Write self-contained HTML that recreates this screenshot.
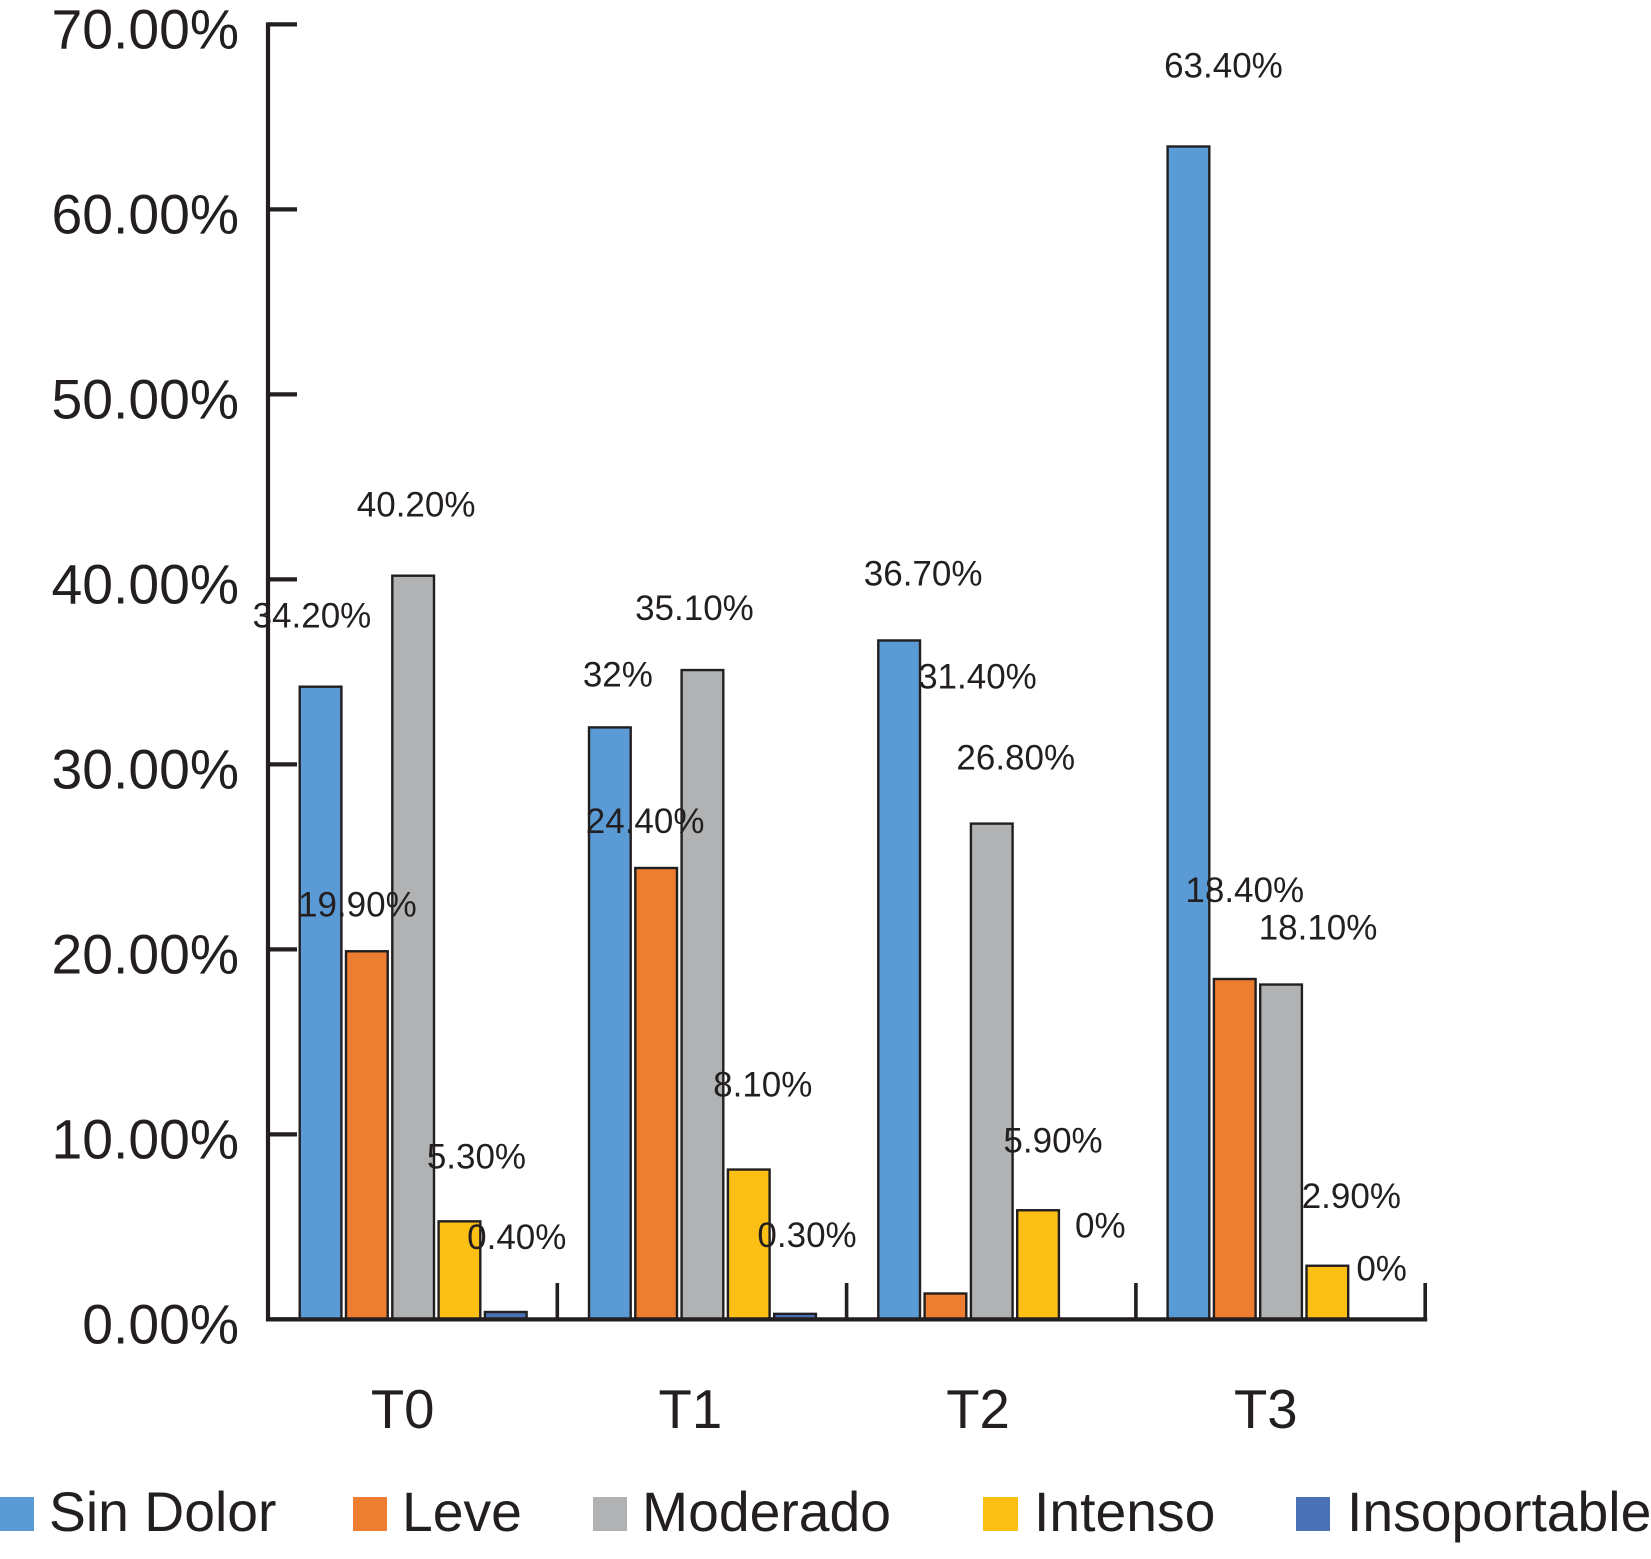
<!DOCTYPE html>
<html lang="es">
<head>
<meta charset="utf-8">
<title>Dolor por tiempo</title>
<style>
html,body{margin:0;padding:0;background:#fff;}
svg{display:block;}
text{font-family:"Liberation Sans",Arial,sans-serif;fill:#231f20;}
.big{font-size:55.3px;}
.cat{font-size:54.5px;}
.lab{font-size:35px;}
</style>
</head>
<body>
<svg id="chart" xmlns="http://www.w3.org/2000/svg" width="1651" height="1559" viewBox="0 0 1651 1559">
  <rect x="0" y="0" width="1651" height="1559" fill="#fff"/>
  <g id="bars"></g>
  <g id="axes"></g>
  <g id="labels"></g>
  <g id="legend">
    <g>
      <rect x="0" y="1497" width="34" height="34" fill="#5b9bd5"/>
      <text class="big" x="49" y="1531">Sin Dolor</text>
    </g>
    <g>
      <rect x="353" y="1497" width="34" height="34" fill="#ed7d31"/>
      <text class="big" x="402" y="1531">Leve</text>
    </g>
    <g>
      <rect x="593" y="1497" width="34" height="34" fill="#b0b2b3"/>
      <text class="big" x="642" y="1531">Moderado</text>
    </g>
    <g>
      <rect x="983" y="1497" width="35" height="34" fill="#fcc014"/>
      <text class="big" x="1034" y="1531">Intenso</text>
    </g>
    <g>
      <rect x="1296" y="1497" width="34" height="34" fill="#4a70b5"/>
      <text class="big" x="1347" y="1531">Insoportable</text>
    </g>
  </g>
</svg>
<script>
// ---- data ----
const categories = ['T0', 'T1', 'T2', 'T3'];
const seriesNames = ['sin-dolor', 'leve', 'moderado', 'intenso', 'insoportable'];
const sinDolor = [34.2, 32, 36.7, 63.4];
const leve = [19.9, 24.4, 1.4, 18.4];
const moderado = [40.2, 35.1, 26.8, 18.1];
const intenso = [5.3, 8.1, 5.9, 2.9];
const insoportable = [0.4, 0.3, 0, 0];
const yTicks = [0, 10, 20, 30, 40, 50, 60, 70];
const yTickLabels = ['0.00%', '10.00%', '20.00%', '30.00%', '40.00%', '50.00%', '60.00%', '70.00%'];
// Printed labels as they appear in the figure (T2 "Leve" is printed 31.40%)
const sinDolorLabels = ['34.20%', '32%', '36.70%', '63.40%'];
const leveLabels = ['19.90%', '24.40%', '31.40%', '18.40%'];
const moderadoLabels = ['40.20%', '35.10%', '26.80%', '18.10%'];
const intensoLabels = ['5.30%', '8.10%', '5.90%', '2.90%'];
const insoportableLabels = ['0.40%', '0.30%', '0%', '0%'];

// ---- layout ----
const seriesValues = [sinDolor, leve, moderado, intenso, insoportable];
const seriesLabels = [sinDolorLabels, leveLabels, moderadoLabels, intensoLabels, insoportableLabels];
const seriesColors = ['#5b9bd5', '#ed7d31', '#b0b2b3', '#fcc014', '#4a70b5'];
const INK = '#231f20';
const X0 = 268, BAND = 289.3, Y0 = 1319.4, PER_UNIT = 18.5;
const BAR_W = 41.7, BAR_PITCH = 46.3, BAR_START = 31.7;
// hand-placed annotation nudges (px, relative to bar centre / printed value height), by series then category
const nudgeX = [[-8.6, 8, 24, 35], [-9.5, -11, 32, 10], [3, -8, 24, 37], [17, 14, 15, 24], [11, 12, 16, 8]];
const nudgeY = [[-71, -53, -67, -81], [-47, -47, -62, -89], [-71, -62, -66, -57], [-65, -85, -70, -70], [-75, -79, -94, -51]];

function yScale(v) { return Y0 - v * PER_UNIT; }
function xBand(c) { return X0 + c * BAND; }
function xBar(c, s) { return xBand(c) + BAR_START + s * BAR_PITCH; }

const NS = 'http://www.w3.org/2000/svg';
function make(tag, attrs, parent) {
  const el = document.createElementNS(NS, tag);
  for (const k in attrs) el.setAttribute(k, attrs[k]);
  parent.appendChild(el);
  return el;
}
const barsG = document.getElementById('bars');
const axesG = document.getElementById('axes');
const labelsG = document.getElementById('labels');

// bars
seriesValues.forEach(function (vals, s) {
  vals.forEach(function (v, c) {
    if (v <= 0) return;
    const r = make('rect', {
      x: xBar(c, s), y: yScale(v), width: BAR_W, height: Y0 - yScale(v),
      fill: seriesColors[s], stroke: INK, 'stroke-width': 2.4
    }, barsG);
    
    
  });
});

// y axis
const yAxis = make('line', { x1: X0, x2: X0, y1: yScale(70) - 2, y2: Y0 + 2, stroke: INK, 'stroke-width': 4.2 }, axesG);



yTicks.forEach(function (t, i) {
  const tick = make('line', { x1: X0, x2: 297, y1: yScale(t), y2: yScale(t), stroke: INK, 'stroke-width': 4.2 }, axesG);
  
  
  const lab = make('text', { x: 239, y: yScale(t) + 24, 'text-anchor': 'end', 'class': 'big' }, axesG);
  lab.textContent = yTickLabels[i];
  
  
});

// x axis
const xAxis = make('line', { x1: X0 - 2, x2: xBand(categories.length) + 2, y1: Y0, y2: Y0, stroke: INK, 'stroke-width': 4.2 }, axesG);



categories.forEach(function (cat, c) {
  const tick = make('line', { x1: xBand(c + 1), x2: xBand(c + 1), y1: 1283, y2: Y0, stroke: INK, 'stroke-width': 3.6 }, axesG);
  
  
  const lab = make('text', { x: xBand(c) + BAND / 2 - 10 - 1.6 * c, y: 1428, 'text-anchor': 'middle', 'class': 'cat' }, axesG);
  lab.textContent = cat;
  
  
});

// value labels (anchored to the printed value)
seriesLabels.forEach(function (labs, s) {
  labs.forEach(function (txt, c) {
    const lab = make('text', {
      x: xBar(c, s) + BAR_W / 2 + nudgeX[s][c],
      y: yScale(parseFloat(txt)) + nudgeY[s][c] + 12,
      'text-anchor': 'middle', 'class': 'lab'
    }, labelsG);
    lab.textContent = txt;
    
    
  });
});
</script>
</body>
</html>
